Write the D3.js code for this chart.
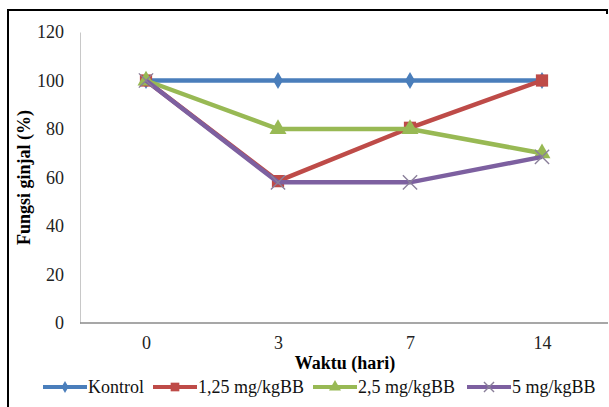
<!DOCTYPE html>
<html>
<head>
<meta charset="utf-8">
<script src="https://cdn.jsdelivr.net/npm/d3@7"></script>
<style>
  body { margin: 0; background: #fff; }
  svg text { font-family: "Liberation Serif", "Times New Roman", serif; }
</style>
</head>
<body>
<div id="chart"></div>
<script>
// data
var days = ['0', '3', '7', '14'];
var seriesNames = ['Kontrol', '1,25 mg/kgBB', '2,5 mg/kgBB', '5 mg/kgBB'];
var kontrol = [100, 100, 100, 100];
var dose125 = [100, 58.5, 80.5, 100];
var dose25 = [100, 80, 80, 70];
var dose5 = [100, 58, 58, 68.5];
var yTicks = [0, 20, 40, 60, 80, 100, 120];

var colors = ['#4a7ebb', '#be4b48', '#98b954', '#7d60a0'];
var symbols = ['diamond', 'square', 'triangle', 'x'];
var markerSizes = [85, 150, 125, 130];

var svgWidth = 609;
var svgHeight = 407;

var margin = { top: 32, right: 1, bottom: 84, left: 80 };
var chartWidth = svgWidth - margin.left - margin.right;
var chartHeight = svgHeight - margin.top - margin.bottom;

var svg = d3.select('#chart')
    .append('svg')
    .attr('width', svgWidth)
    .attr('height', svgHeight);

// outer frame
svg.append('path')
    .attr('d', 'M8,407 L8,10 L607,10 L607,14')
    .attr('fill', 'none')
    .attr('stroke', '#000')
    .attr('stroke-width', 2);

var chartGroup = svg.append('g')
    .attr('transform', `translate(${margin.left}, ${margin.top})`);

var xScale = d3.scalePoint()
    .domain(days)
    .range([chartWidth / 8, chartWidth * 7 / 8]);

var yScale = d3.scaleLinear()
    .domain([0, 120])
    .range([chartHeight, 0]);

// y axis, labels only
var leftAxis = d3.axisLeft(yScale).tickValues(yTicks).tickSize(0).tickPadding(16);
var yAxisG = chartGroup.append('g').call(leftAxis);
yAxisG.select('.domain').attr('stroke', '#c8c8c8');
yAxisG.selectAll('text').attr('font-size', 18).attr('fill', '#222')
    .attr('font-family', 'Liberation Serif, serif');

// x axis
var bottomAxis = d3.axisBottom(xScale).tickSize(0).tickPadding(13);
var xAxisG = chartGroup.append('g')
    .attr('transform', `translate(0, ${chartHeight})`)
    .call(bottomAxis);
xAxisG.select('.domain').attr('stroke', '#8a8a8a').attr('stroke-width', 1.5)
    .attr('d', `M0,0H${chartWidth}`);
xAxisG.selectAll('text').attr('font-size', 18).attr('fill', '#222')
    .attr('font-family', 'Liberation Serif, serif');

// axis titles
svg.append('text')
    .attr('transform', `translate(30, ${margin.top + chartHeight / 2}) rotate(-90)`)
    .attr('text-anchor', 'middle')
    .attr('font-size', 18)
    .attr('font-weight', 'bold')
    .text('Fungsi ginjal (%)');

svg.append('text')
    .attr('x', 345)
    .attr('y', 369)
    .attr('text-anchor', 'middle')
    .attr('font-size', 18)
    .attr('font-weight', 'bold')
    .text('Waktu (hari)');

var allSeries = [kontrol, dose125, dose25, dose5];

var line = d3.line()
    .x((d, i) => xScale(days[i]))
    .y(d => yScale(d));

function drawMarker(g, type, color, size) {
    if (type === 'x') {
        var h = Math.sqrt(size) / 1.6;
        g.append('path')
            .attr('d', `M${-h},${-h}L${h},${h}M${-h},${h}L${h},${-h}`)
            .attr('stroke', '#8a7f9a')
            .attr('stroke-width', 1.4);
    } else {
        var sym = { diamond: d3.symbolDiamond, square: d3.symbolSquare, triangle: d3.symbolTriangle }[type];
        g.append('path')
            .attr('d', d3.symbol().type(sym).size(size)())
            .attr('fill', color);
    }
}

allSeries.forEach((vals, s) => {
    chartGroup.append('path')
        .datum(vals)
        .attr('d', line)
        .attr('fill', 'none')
        .attr('stroke', colors[s])
        .attr('stroke-width', 4.5);

    vals.forEach((v, i) => {
        var g = chartGroup.append('g')
            .attr('transform', `translate(${xScale(days[i])}, ${yScale(v)})`);
        drawMarker(g, symbols[s], colors[s], markerSizes[s]);
    });
});

// legend
var legendX = [43, 153, 313, 467];
var legend = svg.append('g').attr('transform', 'translate(0, 387)');
seriesNames.forEach((name, s) => {
    var g = legend.append('g').attr('transform', `translate(${legendX[s]}, 0)`);
    g.append('line')
        .attr('x1', 0).attr('x2', 44)
        .attr('stroke', colors[s])
        .attr('stroke-width', 4);
    var m = g.append('g').attr('transform', 'translate(22, 0)');
    drawMarker(m, symbols[s], colors[s], markerSizes[s] * 0.5);
    g.append('text')
        .attr('x', 45)
        .attr('y', 6)
        .attr('font-size', 18)
        .attr('fill', '#111')
        .text(name);
});
</script>
</body>
</html>
